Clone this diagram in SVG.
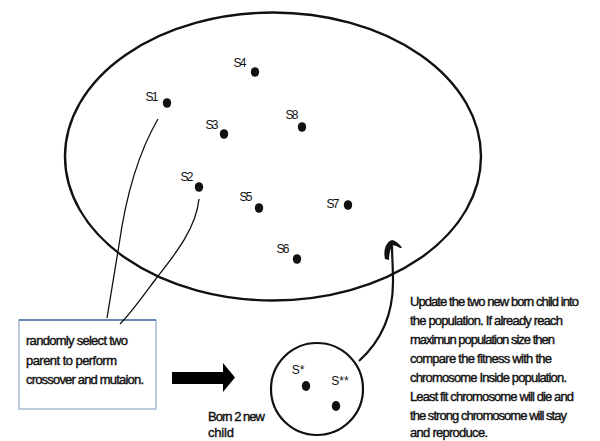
<svg xmlns="http://www.w3.org/2000/svg" width="600" height="441" viewBox="0 0 600 441">
<style>
.lbl{font-family:"Liberation Sans",Arial,sans-serif;font-size:12px;fill:#111;text-anchor:middle;lengthAdjust:spacingAndGlyphs}
.txt{font-family:"Liberation Sans",Arial,sans-serif;font-size:13px;fill:#111;stroke:#111;stroke-width:0.4;lengthAdjust:spacingAndGlyphs}
.dot{fill:#111}
.line{fill:none;stroke:#111;stroke-width:1.3}
</style>
<rect width="600" height="441" fill="#fff"/>
<g id="population">
<ellipse cx="273" cy="156.5" rx="208" ry="144" fill="none" stroke="#111" stroke-width="2.4"/>
</g>
<g id="S1"><ellipse class="dot" cx="167" cy="103" rx="4.2" ry="4.8"/><text class="lbl" x="152" y="101" textLength="13">S1</text></g>
<g id="S2"><ellipse class="dot" cx="199" cy="187" rx="4.2" ry="4.8"/><text class="lbl" x="187" y="181" textLength="13">S2</text></g>
<g id="S3"><ellipse class="dot" cx="224" cy="134" rx="4.2" ry="4.8"/><text class="lbl" x="212" y="129" textLength="13">S3</text></g>
<g id="S4"><ellipse class="dot" cx="255" cy="72" rx="4.2" ry="4.8"/><text class="lbl" x="240" y="67" textLength="13">S4</text></g>
<g id="S5"><ellipse class="dot" cx="259" cy="208" rx="4.2" ry="4.8"/><text class="lbl" x="246" y="201" textLength="13">S5</text></g>
<g id="S6"><ellipse class="dot" cx="297" cy="259" rx="4.2" ry="4.8"/><text class="lbl" x="283" y="253" textLength="13">S6</text></g>
<g id="S7"><ellipse class="dot" cx="348" cy="205" rx="4.2" ry="4.8"/><text class="lbl" x="333" y="208" textLength="13">S7</text></g>
<g id="S8"><ellipse class="dot" cx="302" cy="127" rx="4.2" ry="4.8"/><text class="lbl" x="292" y="119" textLength="13">S8</text></g>
<g id="select-box">
<rect x="19" y="320" width="137" height="89" fill="#fff" stroke="#9ab0cc" stroke-width="1.3"/>
<line x1="19" y1="320" x2="156" y2="320" stroke="#4a74a8" stroke-width="1.6"/>
<text class="txt" x="26" y="345" textLength="102">randomly select two</text>
<text class="txt" x="26" y="365" textLength="91">parent to perform</text>
<text class="txt" x="26" y="384" textLength="118">crossover and mutaion.</text>
</g>
<g id="children">
<circle cx="317" cy="389" r="46" fill="none" stroke="#111" stroke-width="2.2"/>
<text class="lbl" x="298" y="374" font-size="11">S*</text>
<ellipse class="dot" cx="306" cy="386" rx="4.2" ry="5"/>
<text class="lbl" x="340" y="385" font-size="11">S**</text>
<ellipse class="dot" cx="336" cy="406" rx="4.2" ry="5"/>
<text class="txt" x="208" y="421" textLength="57">Born 2 new</text>
<text class="txt" x="208" y="437" textLength="26">child</text>
</g>
<g id="note">
<text class="txt" x="410" y="306" textLength="169">Update the two new born child into</text>
<text class="txt" x="410" y="325" textLength="153">the population. If already reach</text>
<text class="txt" x="410" y="344" textLength="145">maximun population size then</text>
<text class="txt" x="410" y="363" textLength="142">compare the fitness with the</text>
<text class="txt" x="410" y="382" textLength="157">chromosome Inside population.</text>
<text class="txt" x="410" y="401" textLength="164">Least fit chromosome will die and</text>
<text class="txt" x="410" y="420" textLength="157">the strong chromosome will stay</text>
<text class="txt" x="410" y="437" textLength="78">and reproduce.</text>
</g>
<g id="connectors">
<path class="line" d="M158,119 C140,150 126,195 119,245 L107,318"/>
<path class="line" d="M199,199 C196,230 172,258 155,280 C140,300 130,314 120,324"/>
<polygon points="172,372 223,372 223,363 235,377.5 223,392 223,384 172,384" fill="#000"/>
<path fill="none" stroke="#111" stroke-width="2.2" d="M359,361 C380,342 393,315 393,282 C393,266 392,256 392,246"/>
<path fill="#111" d="M385,259 C383,250 386,242 392,240 C396,241 400,244 402,248 L400,248 C397,246 394,245 392,246 C390,250 389,255 389,260 Z"/>
</g>
</svg>
